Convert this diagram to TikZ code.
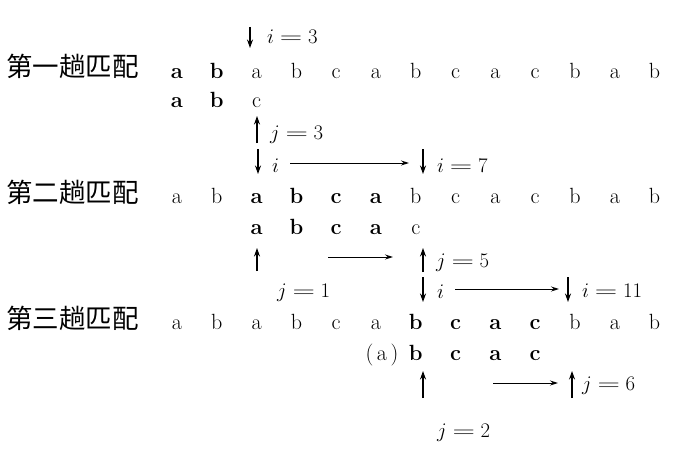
\documentclass[tikz,border=0pt]{standalone}
\usepackage{fontspec}
\usepackage{graphicx}
\newfontfamily\cjkfont{Noto Sans CJK SC}
\usetikzlibrary{arrows.meta}
\newcommand{\wideeq}{\mathrel{\scalebox{1.5}[1]{$=$}}}
\tikzset{
  ch/.style={font=\fontsize{22}{22}\selectfont, inner sep=0pt, anchor=base},
  chb/.style={font=\fontsize{22}{22}\selectfont\bfseries, inner sep=0pt, anchor=base},
  lab/.style={font=\fontsize{20}{20}\selectfont, inner sep=0pt, anchor=base west},
  ttl/.style={font=\fontsize{26.5}{26.5}\selectfont\cjkfont, inner sep=0pt, anchor=base west},
  varrow/.style={line width=1.3pt, -{Stealth[length=8.5pt,width=6pt]}},
  harrow/.style={line width=1pt, -{Stealth[length=8pt,width=5pt]}},
}
\begin{document}
\begin{tikzpicture}[x=1pt,y=-1pt]
\useasboundingbox (0,0) rectangle (676,460);
% titles
\node[ttl] (t1) at (6,76) {第一趟匹配};
\node[ttl] (t2) at (6,202) {第二趟匹配};
\node[ttl] (t3) at (6,328) {第三趟匹配};
% main strings
\foreach \c/\s [count=\k] in {a/chb,b/chb,a/ch,b/ch,c/ch,a/ch,b/ch,c/ch,a/ch,c/ch,b/ch,a/ch,b/ch}
  \node[\s] (ra\k) at ({177+39.8*(\k-1)},78) {\c};
\foreach \c/\s [count=\k] in {a/ch,b/ch,a/chb,b/chb,c/chb,a/chb,b/ch,c/ch,a/ch,c/ch,b/ch,a/ch,b/ch}
  \node[\s] (rb\k) at ({177+39.8*(\k-1)},203) {\c};
\foreach \c/\s [count=\k] in {a/ch,b/ch,a/ch,b/ch,c/ch,a/ch,b/chb,c/chb,a/chb,c/chb,b/ch,a/ch,b/ch}
  \node[\s] (rc\k) at ({177+39.8*(\k-1)},329) {\c};
% patterns
\foreach \c/\s/\k in {a/chb/1,b/chb/2,c/ch/3}
  \node[\s] (pa\k) at ({177+39.8*(\k-1)},107) {\c};
\foreach \c/\s/\k in {a/chb/3,b/chb/4,c/chb/5,a/chb/6,c/ch/7}
  \node[\s] (pb\k) at ({177+39.8*(\k-1)},234) {\c};
\node[ch] (pc6) at (382,360) {(\,a\,)};
\foreach \c/\s/\k in {b/chb/7,c/chb/8,a/chb/9,c/chb/10}
  \node[\s] (pc\k) at ({177+39.8*(\k-1)},360) {\c};
% labels
\node[lab] (li3) at (267,44) {$i\wideeq 3$};
\node[lab] (lj3) at (270,139) {$j\wideeq 3$};
\node[lab] (li1) at (272,172) {$i$};
\node[lab] (li7) at (437,172) {$i\wideeq 7$};
\node[lab] (lj5) at (436,267) {$j\wideeq 5$};
\node[lab] (lj1) at (277,297) {$j\wideeq 1$};
\node[lab] (li2) at (437,298) {$i$};
\node[lab] (li11) at (582,297) {$i\wideeq 11$};
\node[lab] (lj6) at (582,390) {$j\wideeq 6$};
\node[lab] (lj2) at (437,437) {$j\wideeq 2$};
% arrow end points
\coordinate (a1s) at (250,27);  \coordinate (a1e) at (250,48);
\coordinate (a2s) at (257,143); \coordinate (a2e) at (257,116);
\coordinate (a3s) at (258,149); \coordinate (a3e) at (258,174);
\coordinate (a4s) at (423,149); \coordinate (a4e) at (423,174);
\coordinate (a5s) at (257,271); \coordinate (a5e) at (257,248);
\coordinate (a6s) at (423,272); \coordinate (a6e) at (423,248);
\coordinate (a7s) at (423,277); \coordinate (a7e) at (423,302);
\coordinate (a8s) at (568,277); \coordinate (a8e) at (568,302);
\coordinate (a9s) at (423,398); \coordinate (a9e) at (423,371);
\coordinate (a10s) at (572,398); \coordinate (a10e) at (572,371);
\coordinate (h1s) at (290,163); \coordinate (h1e) at (409,163);
\coordinate (h2s) at (328,257); \coordinate (h2e) at (393,257);
\coordinate (h3s) at (455,289); \coordinate (h3e) at (559,289);
\coordinate (h4s) at (493,383); \coordinate (h4e) at (558,383);
% vertical arrows
\foreach \n in {1,...,10} \draw[varrow] (a\n s) -- (a\n e);
% horizontal arrows
\foreach \n in {1,...,4} \draw[harrow] (h\n s) -- (h\n e);
\end{tikzpicture}
\end{document}
